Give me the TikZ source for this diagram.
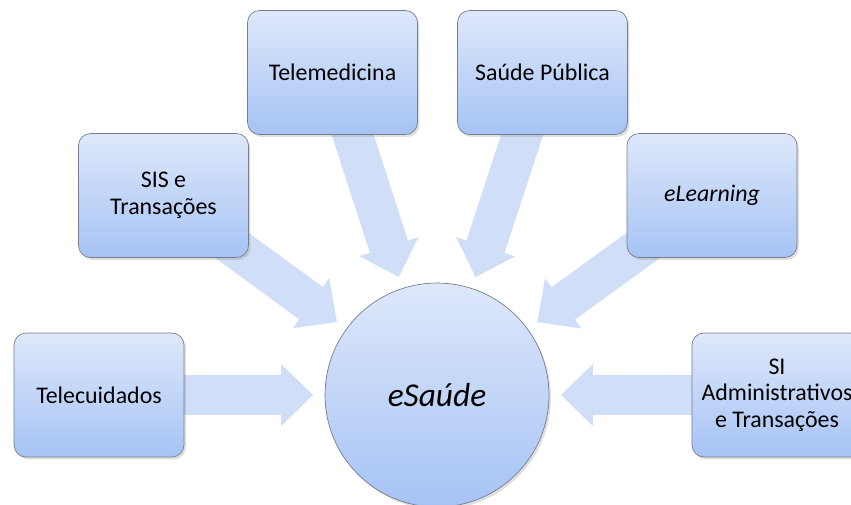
\documentclass[tikz,border=0pt]{standalone}
\usepackage{fontspec}
\setmainfont{Carlito}
\usetikzlibrary{arrows.meta, shadows, backgrounds}
\definecolor{boxtop}{RGB}{222,232,250}
\definecolor{boxbottom}{RGB}{166,195,245}
\definecolor{arrowblue}{RGB}{208,222,248}
\definecolor{edgegray}{RGB}{118,126,140}

\begin{document}
\begin{tikzpicture}[
  x=0.02cm, y=-0.02cm,
  topicbox/.style={draw=edgegray, thin, rounded corners=0.24cm, minimum width=3.4cm,
                   minimum height=2.48cm, align=center, top color=boxtop, bottom color=boxbottom,
                   drop shadow={opacity=0.25, shadow xshift=0.04cm, shadow yshift=-0.05cm},
                   font=\fontsize{13.6}{15.2}\selectfont},
  hubcircle/.style={circle, draw=edgegray, thin, minimum size=4.48cm, inner sep=0pt,
                    top color=boxtop, bottom color=boxbottom,
                    drop shadow={opacity=0.25, shadow xshift=0.04cm, shadow yshift=-0.05cm},
                    font=\fontsize{19}{22}\selectfont\itshape},
  fatarrow/.style={draw=arrowblue, line width=0.8cm,
                   -{Triangle[length=0.64cm, width=1.24cm, line width=0pt]}, shorten >=2.48cm}
]
  \useasboundingbox (0,0) rectangle (851,504);
  \node[hubcircle] (hub) at (437,395) {eSaúde};
  \node[topicbox] (tc) at (99,395) {Telecuidados};
  \node[topicbox] (sis) at (163.5,195.5) {SIS e\\Transações};
  \node[topicbox] (tm) at (332.5,72.5) {Telemedicina};
  \node[topicbox] (sp) at (542.5,72.5) {Saúde Pública};
  \node[topicbox] (el) at (712,195.5) {\itshape eLearning};
  \node[topicbox] (sia) at (777,395) {SI\\Administrativos\\e Transações};
  % arrows go under the boxes
  \begin{scope}[on background layer]
    \draw[fatarrow] (tc.center) -- (hub.center);
    \draw[fatarrow] (sis.center) -- (hub.center);
    \draw[fatarrow] (tm.center) -- (hub.center);
    \draw[fatarrow] (sp.center) -- (hub.center);
    \draw[fatarrow] (el.center) -- (hub.center);
    \draw[fatarrow] (sia.center) -- (hub.center);
  \end{scope}
\end{tikzpicture}
\end{document}
